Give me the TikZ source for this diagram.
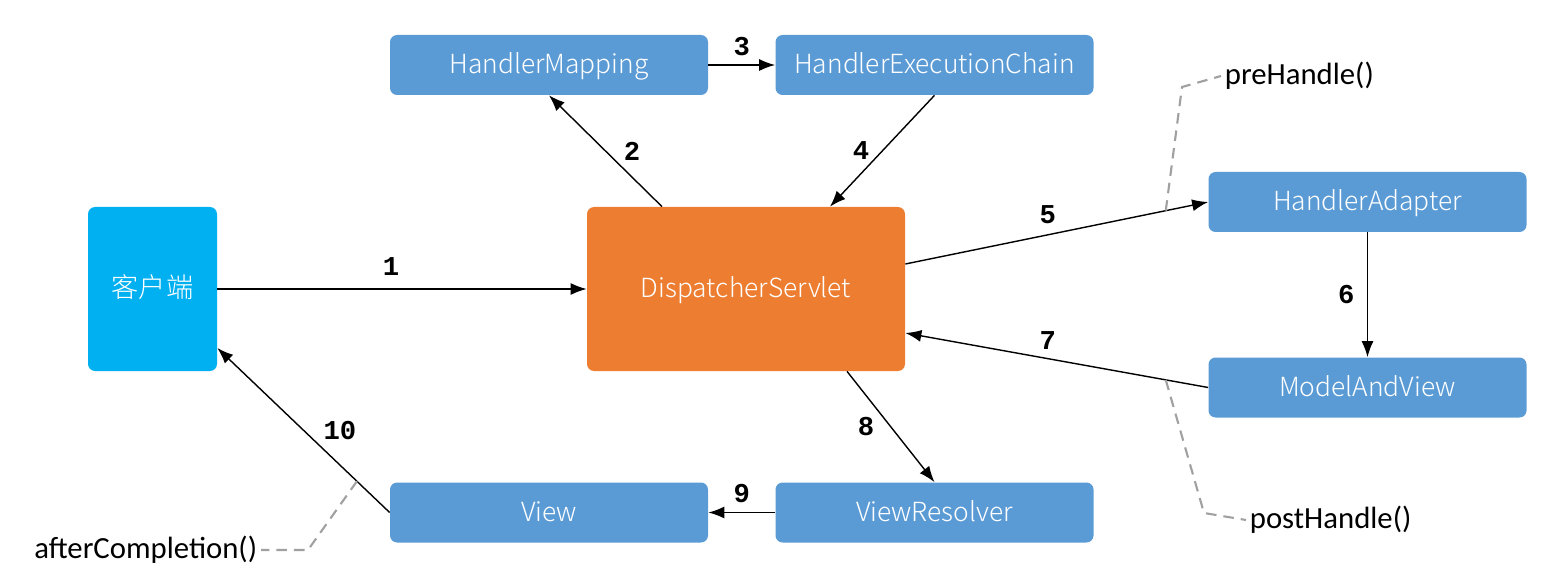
\documentclass[tikz,border=0pt]{standalone}
\usepackage{fontspec}
\setmainfont{Carlito}
\newfontfamily\boxfont{Noto Sans CJK SC}[UprightFont={* Light}]
\newfontfamily\numfont{Liberation Mono}
\usepackage{xcolor}
\usepackage{tikz}
\usetikzlibrary{calc, positioning, arrows.meta}
\definecolor{boxblue}{HTML}{5B9BD5}
\definecolor{clientblue}{HTML}{00B0F0}
\definecolor{dsorange}{HTML}{ED7D31}
\definecolor{hookgray}{HTML}{A0A0A0}
\tikzset{
    comp/.style={rectangle, rounded corners=4pt, fill=boxblue, text=white, align=center, minimum width=6.36cm, minimum height=1.2cm, text height=12pt, text depth=2pt, font=\boxfont\fontsize{15}{17}\selectfont},
    client/.style={rectangle, rounded corners=4pt, fill=clientblue, text=white, align=center, minimum width=2.58cm, minimum height=3.28cm, text height=12pt, text depth=2pt, font=\boxfont\fontsize{15.5}{17}\selectfont},
    central/.style={rectangle, rounded corners=4pt, fill=dsorange, text=white, align=center, minimum width=6.36cm, minimum height=3.28cm, text height=12pt, text depth=2pt, font=\boxfont\fontsize{15}{17}\selectfont},
    arrow/.style={-{Latex[length=3.2mm, width=2.4mm]}, line width=0.8pt},
    num/.style={font=\numfont\bfseries\fontsize{15.5}{17}\selectfont, inner sep=3pt},
    hook/.style={hookgray, line width=1.2pt, dash pattern=on 6pt off 4pt},
    hooktext/.style={font=\fontsize{17.5}{20}\selectfont, inner sep=2pt}
}

\begin{document}
\begin{tikzpicture}
    \useasboundingbox (0,0) rectangle (30.96,11.48);

    % Components
    \node[client] (client) at (3.05,5.70) {客户端};
    \node[central] (ds) at (14.92,5.70) {DispatcherServlet};
    \node[comp] (hm) at (10.98,10.18) {HandlerMapping};
    \node[comp] (hec) at (18.69,10.18) {HandlerExecutionChain};
    \node[comp] (ha) at (27.35,7.44) {HandlerAdapter};
    \node[comp] (mav) at (27.35,3.73) {ModelAndView};
    \node[comp] (view) at (10.98,1.23) {View};
    \node[comp] (vr) at (18.69,1.23) {ViewResolver};

    % Request flow
    \draw[arrow] (client.east) -- node[num, pos=0.47, above=4pt] {1} (ds.west);
    \draw[arrow] ([xshift=-1.68cm]ds.north) -- node[num, right=7pt] {2} (hm.south);
    \draw[arrow] (hm.east) -- node[num, above=2pt] {3} (hec.west);
    \draw[arrow] (hec.south) -- node[num, left=4pt] {4} ([xshift=1.68cm]ds.north);
    \draw[arrow] ([yshift=0.5cm]ds.east) -- coordinate[pos=0.86] (pre) node[num, pos=0.47, above=3pt] {5} (ha.west);
    \draw[arrow] (ha.south) -- node[num, left=4pt] {6} (mav.north);
    \draw[arrow] (mav.west) -- coordinate[pos=0.14] (post) node[num, pos=0.53, above=2pt] {7} ([yshift=-0.88cm]ds.east);
    \draw[arrow] ([xshift=2.02cm]ds.south) -- node[num, left=6pt] {8} (vr.north);
    \draw[arrow] (vr.west) -- node[num, above=2pt] {9} (view.east);
    \draw[arrow] (view.west) -- coordinate[pos=0.19] (after) node[num, right=8pt] {10} ([yshift=-1.18cm]client.east);

    % Interceptor hooks
    \node[hooktext, anchor=west] (prehandle) at (24.42,9.96) {preHandle()};
    \node[hooktext, anchor=west] (posthandle) at (24.92,1.08) {postHandle()};
    \node[hooktext, anchor=east] (aftercompletion) at (5.22,0.48) {afterCompletion()};
    \draw[hook] (pre) -- (23.64,9.74) -- (prehandle.west);
    \draw[hook] (post) -- (24.08,1.22) -- (posthandle.west);
    \draw[hook] (after) -- (6.16,0.48) -- (aftercompletion.east);
\end{tikzpicture}
\end{document}
